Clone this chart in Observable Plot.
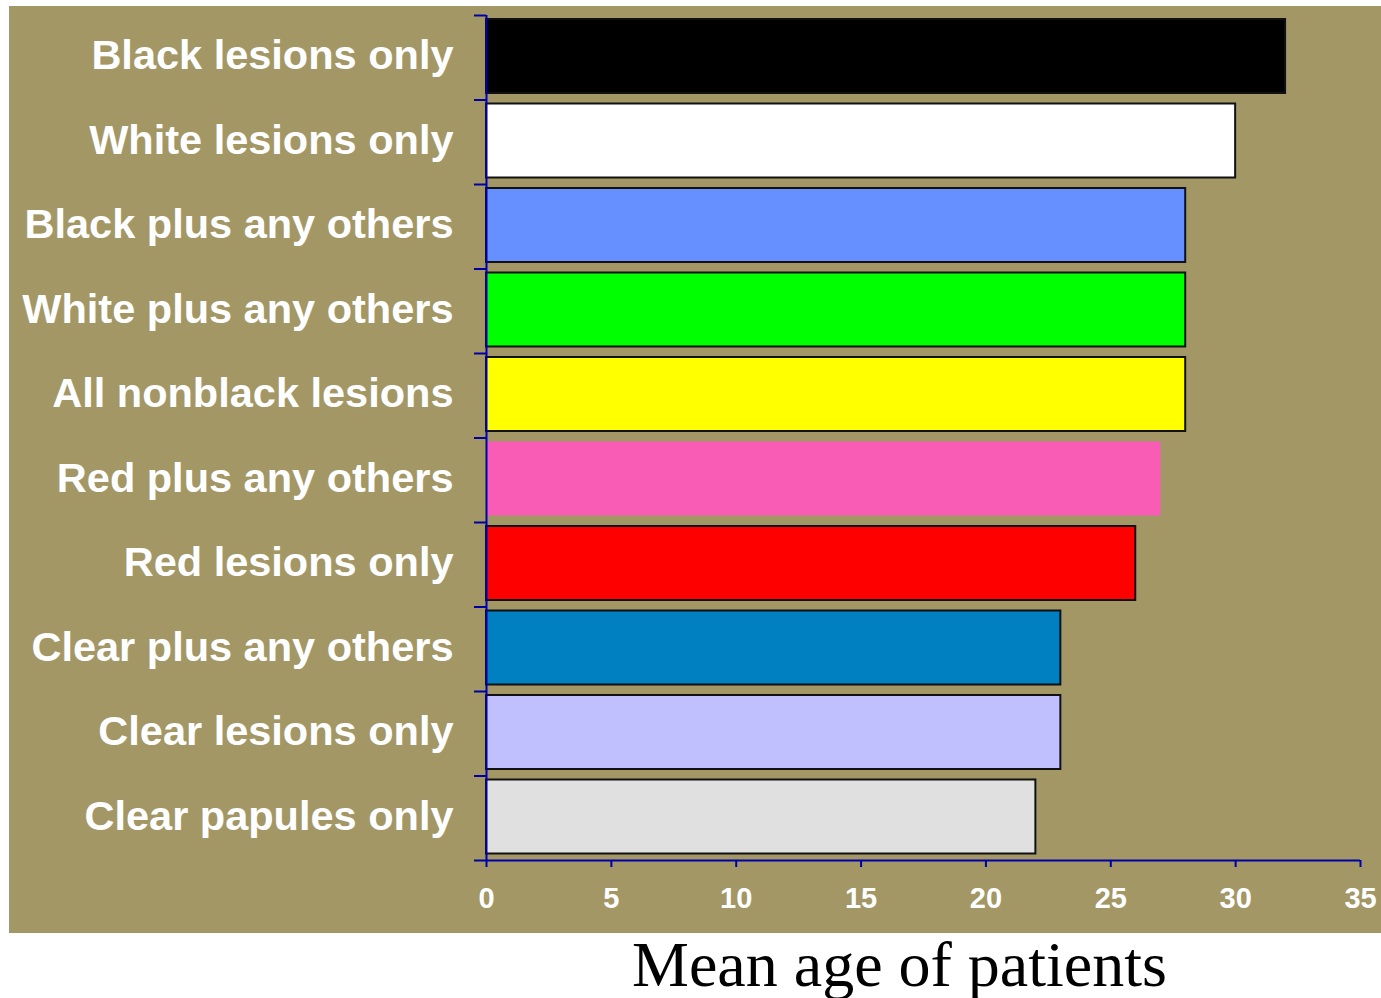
<!DOCTYPE html>
<html>
<head>
<meta charset="utf-8">
<script src="https://cdn.jsdelivr.net/npm/d3@7"></script>
<script src="https://cdn.jsdelivr.net/npm/@observablehq/plot@0.6"></script>
<style>
  html, body { margin: 0; padding: 0; background: #ffffff; }
  #wrap { position: relative; width: 1381px; height: 998px; }
  #chart { position: absolute; left: 9px; top: 6px; }
  #title { position: absolute; left: 632px; top: 933px; font-family: "Liberation Serif", "Times New Roman", serif; font-size: 64px; line-height: 1; color: #000; white-space: nowrap; }
</style>
</head>
<body>
<div id="wrap">
  <div id="chart"></div>
  <div id="title">Mean age of patients</div>
</div>
<script>
const categories = [
  "Black lesions only",
  "White lesions only",
  "Black plus any others",
  "White plus any others",
  "All nonblack lesions",
  "Red plus any others",
  "Red lesions only",
  "Clear plus any others",
  "Clear lesions only",
  "Clear papules only"
];
const meanAge = [32, 30, 28, 28, 28, 27, 26, 23, 23, 22];
const barColors = ["#000000", "#ffffff", "#6690ff", "#00ff00", "#ffff00", "#f85cb4", "#ff0000", "#0080c0", "#c0c0ff", "#e0e0e0"];
const outlined = [true, true, true, true, true, false, true, true, true, true];
const xTicks = [0, 5, 10, 15, 20, 25, 30, 35];

const rows = categories.map((c, i) => ({cat: c, value: meanAge[i], i, fill: barColors[i], outlined: outlined[i]}));

const axisBlue = "#0000a8";
const font = "'Liberation Sans', Arial, sans-serif";

const plot = Plot.plot({
  width: 1372,
  height: 927,
  marginLeft: 477,
  marginRight: 21,
  marginTop: 9,
  marginBottom: 73,
  style: {background: "#a39766", fontFamily: font, color: "#ffffff"},
  x: {domain: [0, 35], axis: null},
  y: {domain: [0, 10], reverse: true, axis: null},
  color: {type: "identity"},
  marks: [
    Plot.rectX(rows, {x1: 0, x2: "value", y1: d => d.i, y2: d => d.i + 1, fill: "fill", insetTop: 4, insetBottom: 6.5}),
    Plot.rectX(rows.filter(d => d.outlined), {x1: 0, x2: "value", y1: d => d.i, y2: d => d.i + 1, fill: "none", stroke: "#111111", strokeWidth: 2, insetTop: 4, insetBottom: 6.5}),
    Plot.ruleX([0], {stroke: axisBlue, strokeWidth: 2}),
    Plot.ruleY([10], {stroke: axisBlue, strokeWidth: 2}),
    Plot.axisY({ticks: d3.range(0, 11), tickFormat: () => "", tickSize: 12, stroke: axisBlue, strokeWidth: 2, label: null}),
    Plot.axisY({ticks: categories.map((c, i) => i + 0.5), tickFormat: d => categories[Math.round(d - 0.5)], tickSize: 0, tickPadding: 33, fontSize: 41.5, fontWeight: "bold", fill: "#ffffff", dy: -2, label: null}),
    Plot.axisX({ticks: xTicks, tickSize: 7, tickPadding: 20, stroke: axisBlue, strokeWidth: 2, fontSize: 29, fontWeight: "bold", fill: "#ffffff", tickFormat: d => String(d), label: null})
  ]
});
document.getElementById("chart").appendChild(plot);
</script>
</body>
</html>
